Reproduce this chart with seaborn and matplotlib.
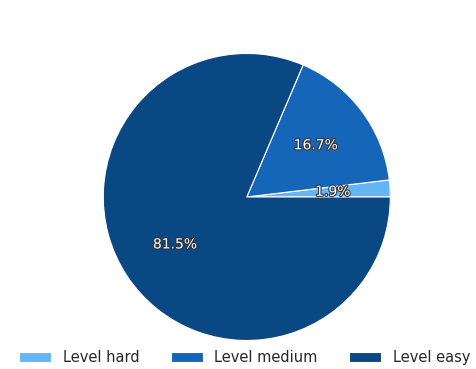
import matplotlib
matplotlib.use("Agg")
import matplotlib.pyplot as plt
import matplotlib.patheffects as pe
import numpy as np
import seaborn as sns

levels = ["Level hard", "Level medium", "Level easy"]
shares = [1.9, 16.7, 81.5]
colors = ["#64B5F6", "#1565B8", "#0A4884"]

sns.set_theme(style="white")
plt.rcParams["font.family"] = ["DejaVu Sans"]

fig = plt.figure(figsize=(4.76, 3.69), dpi=100)
ax = fig.add_axes([0.217, 0.0772, 0.603, 0.778])

wedges, texts = ax.pie(
    shares,
    colors=sns.color_palette(colors),
    startangle=0,
    counterclock=True,
    wedgeprops=dict(edgecolor="white", linewidth=0.8),
)

# percentage labels at 60% of the radius, using the stated shares
for w, v in zip(wedges, shares):
    ang = np.deg2rad((w.theta1 + w.theta2) / 2)
    t = ax.text(0.6 * np.cos(ang), 0.6 * np.sin(ang), f"{v:.1f}%",
                ha="center", va="center", color="white", fontsize=10)
    t.set_path_effects([pe.withStroke(linewidth=1.5, foreground="#333333")])

ax.set_xlim(-1, 1)
ax.set_ylim(-1, 1)
ax.set_aspect("equal")

fig.legend(
    wedges, levels,
    loc="lower center", bbox_to_anchor=(0.514, -0.025),
    ncol=3, frameon=False, fontsize=10.5,
    handlelength=2.2, handleheight=0.6, columnspacing=2.15, handletextpad=0.8,
)

fig.savefig("out.png", dpi=100)
